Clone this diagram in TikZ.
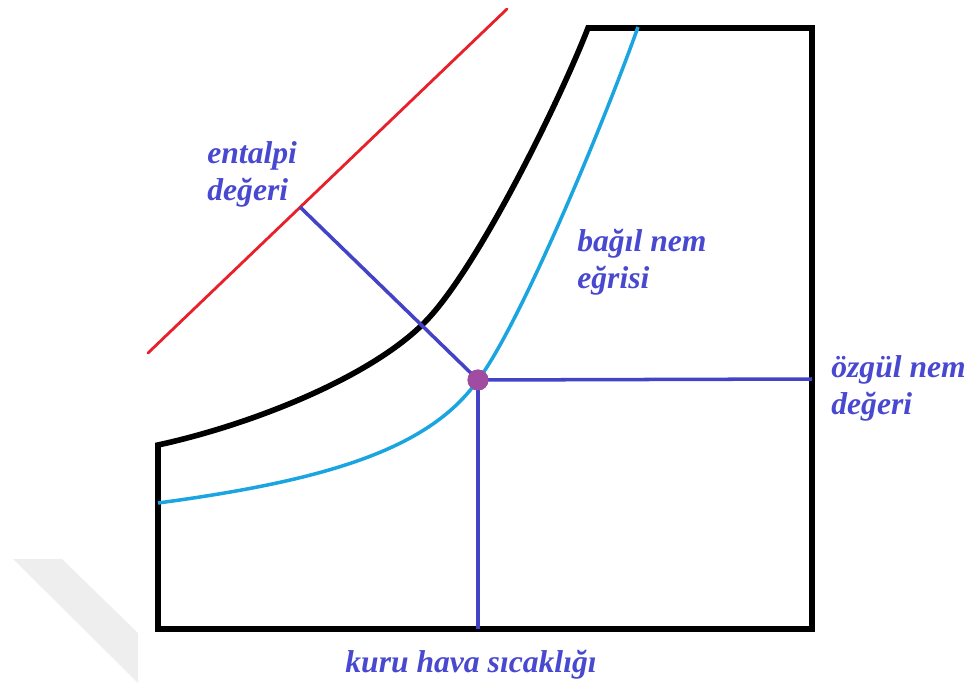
\documentclass[tikz,border=0pt]{standalone}
\usepackage{fontspec}
\setmainfont{Liberation Serif}
\usetikzlibrary{positioning}
\definecolor{rhcyan}{HTML}{1BA5E0}
\definecolor{enred}{HTML}{E8202A}
\definecolor{readblue}{HTML}{4343C8}
\definecolor{ptpurple}{HTML}{A04CA0}
\definecolor{lblblue}{HTML}{4848D0}
\tikzset{
  chartline/.style={draw=black, line width=3.2pt, line join=miter},
  rhcurve/.style={draw=rhcyan, line width=2pt},
  enline/.style={draw=enred, line width=1.6pt, line cap=round},
  readline/.style={draw=readblue, line width=2pt},
  statept/.style={circle, fill=ptpurple, minimum size=0.42cm, inner sep=0pt},
  chartlbl/.style={font=\fontsize{18}{20.5}\selectfont\bfseries\itshape,
                   text=lblblue, align=left, inner sep=0pt},
  wmark/.style={fill=gray!13, draw=none},
}

\begin{document}
\begin{tikzpicture}[x=0.02cm, y=-0.02cm]
\useasboundingbox (0,0) rectangle (975,687);

\fill[wmark] (13,559) -- (62,559) -- (138,633) -- (138,683) -- cycle;

% saturation boundary and chart frame
\draw[chartline] (158,445) .. controls (250,425) and (370,378) .. (425,322)
  .. controls (478,268) and (560,100) .. (588,28)
  -- (812,28) -- (812,629) -- (158,629) -- cycle;

% relative humidity curve
\draw[rhcurve] (158,503) .. controls (330,480) and (430,448) .. (478,380)
  .. controls (520,325) and (605,120) .. (638,27);

% enthalpy line
\coordinate (enA) at (148,353);
\coordinate (enB) at (507,9);
\draw[enline] (enA) -- (enB);

\node[statept] (st) at (478,380) {};
\coordinate (stEnt) at (300,207);
\coordinate (stHum) at (812,379);
\coordinate (stTmp) at (478,629);

\draw[readline] (st.center) -- (stEnt);
\draw[readline] (st.center) -- (stHum);
\draw[readline] (st.center) -- (stTmp);
\node[statept] at (st) {};

\node[chartlbl, anchor=base west] (lblEnt) at (207,200) {entalpi\\değeri};
\node[chartlbl, anchor=base west] (lblRh)  at (577,288) {bağıl nem\\eğrisi};
\node[chartlbl, anchor=base west] (lblHum) at (831,414) {özgül nem\\değeri};
\node[chartlbl, anchor=base] (lblTmp) at (471,672) {kuru hava sıcaklığı};

\end{tikzpicture}
\end{document}
